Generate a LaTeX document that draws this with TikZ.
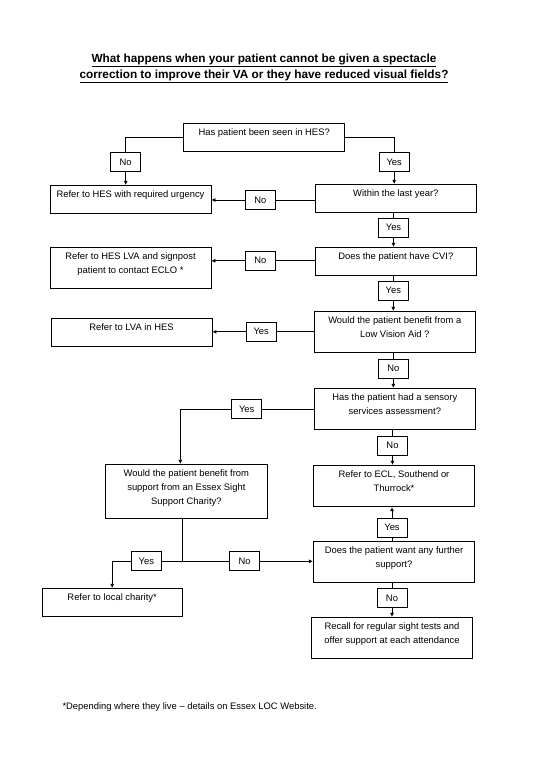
\documentclass[tikz,border=0pt]{standalone}
\usepackage{fontspec}
\setmainfont{Liberation Sans}
\usetikzlibrary{arrows.meta}
\newcommand{\bxt}[3]{\parbox[c][#2][t]{#1}{\centering\rule{0pt}{12.3pt}#3\par}}
\begin{document}
\begin{tikzpicture}[x=1pt,y=-1pt,
  box/.style={draw, line width=0.8pt, inner sep=0pt, font=\fontsize{9.4}{14}\selectfont},
  lab/.style={draw, line width=0.8pt, inner sep=0pt, minimum width=30pt, minimum height=19pt, font=\fontsize{9.4}{11}\selectfont},
  conn/.style={line width=0.7pt},
  arr/.style={conn, -{Latex[length=4pt,width=4pt]}}]
\useasboundingbox (0,0) rectangle (536,760);
\fill[white] (0,0) rectangle (536,760);

\node[align=center, font=\fontsize{11.8}{16.7}\bfseries\selectfont] (title) at (264,68.3)
  {\underline{What happens when your patient cannot be given a spectacle}\\
   \underline{correction to improve their VA or they have reduced visual fields?}};

\node[box] (B1) at (264.2,137.15) {\bxt{161pt}{27.7pt}{Has patient been seen in HES?}};
\node[box] (HESurg) at (130.5,199.3) {\bxt{161pt}{28pt}{Refer to HES with required urgency}};
\node[box] (Within) at (395.8,198.3) {\bxt{161pt}{28pt}{Within the last year?}};
\node[box] (CVI) at (395.8,261.15) {\bxt{161pt}{27.7pt}{Does the patient have CVI?}};
\node[box] (HESLVA) at (130.5,267.8) {\bxt{161pt}{41pt}{Refer to HES LVA and signpost\\patient to contact ECLO *}};
\node[box] (LVAq) at (394.8,331.8) {\bxt{161pt}{41pt}{Would the patient benefit from a\\Low Vision Aid ?}};
\node[box] (LVAref) at (131.5,332.3) {\bxt{161pt}{28pt}{Refer to LVA in HES}};
\node[box] (Sensory) at (394.8,408.8) {\bxt{161pt}{41pt}{Has the patient had a sensory\\services assessment?}};
\node[box] (Charityq) at (186.35,491.3) {\bxt{161.3pt}{54pt}{Would the patient benefit from\\support from an Essex Sight\\Support Charity?}};
\node[box] (ECL) at (394,486) {\bxt{161.4pt}{41.4pt}{Refer to ECL, Southend or\\Thurrock*}};
\node[box] (Further) at (394,561.8) {\bxt{161.4pt}{41pt}{Does the patient want any further\\support?}};
\node[box] (Local) at (112.15,602.3) {\bxt{139.7pt}{28pt}{Refer to local charity*}};
\node[box] (Recall) at (392,637.8) {\bxt{161.4pt}{41pt}{Recall for regular sight tests and\\offer support at each attendance}};

\node[lab] (L1) at (125.7,162) {No};
\node[lab] (L2) at (394.2,162) {Yes};
\node[lab] (L3) at (260.3,200) {No};
\node[lab] (L4) at (393.5,227.5) {Yes};
\node[lab] (L5) at (260.3,260.8) {No};
\node[lab] (L6) at (393.3,290.8) {Yes};
\node[lab] (L7) at (261.2,331.8) {Yes};
\node[lab] (L8) at (393.3,368.8) {No};
\node[lab] (L9) at (246.7,409) {Yes};
\node[lab] (L10) at (392.5,445.8) {No};
\node[lab] (L11) at (392,527.8) {Yes};
\node[lab] (L12) at (244.7,561.3) {No};
\node[lab] (L13) at (146.3,561.3) {Yes};
\node[lab] (L14) at (392,598) {No};

\node[anchor=west, inner sep=0pt, font=\fontsize{9.4}{11}\selectfont] (foot) at (62.3,706.7)
  {*Depending where they live -- details on Essex LOC Website.};

\coordinate (c1) at (180.3,409);
\coordinate (c2) at (182,561.3);

\draw[conn] (B1.west) -| (L1.north);
\draw[arr] (L1.south) -- (L1.south |- HESurg.north);
\draw[conn] (B1.east) -| (L2.north);
\draw[arr] (L2.south) -- (L2.south |- Within.north);
\draw[conn] (Within.west |- L3) -- (L3.east);
\draw[arr] (L3.west) -- (L3.west -| HESurg.east);
\draw[conn] (L4.north |- Within.south) -- (L4.north);
\draw[arr] (L4.south) -- (L4.south |- CVI.north);
\draw[conn] (CVI.west |- L5) -- (L5.east);
\draw[arr] (L5.west) -- (L5.west -| HESLVA.east);
\draw[conn] (L6.north |- CVI.south) -- (L6.north);
\draw[arr] (L6.south) -- (L6.south |- LVAq.north);
\draw[conn] (LVAq.west |- L7) -- (L7.east);
\draw[arr] (L7.west) -- (L7.west -| LVAref.east);
\draw[conn] (L8.north |- LVAq.south) -- (L8.north);
\draw[arr] (L8.south) -- (L8.south |- Sensory.north);
\draw[conn] (Sensory.west |- L9) -- (L9.east);
\draw[arr] (L9.west) -- (c1) -- (c1 |- Charityq.north);
\draw[conn] (L10.north |- Sensory.south) -- (L10.north);
\draw[arr] (L10.south) -- (L10.south |- ECL.north);
\draw[conn] (L11.south |- Further.north) -- (L11.south);
\draw[arr] (L11.north) -- (L11.north |- ECL.south);
\draw[conn] (c2 |- Charityq.south) -- (c2);
\draw[conn] (c2) -- (L12.west);
\draw[arr] (L12.east) -- (L12.east -| Further.west);
\draw[conn] (c2) -- (L13.east);
\draw[arr] (L13.west) -| (Local.north);
\draw[conn] (L14.north |- Further.south) -- (L14.north);
\draw[arr] (L14.south) -- (L14.south |- Recall.north);
\end{tikzpicture}
\end{document}
